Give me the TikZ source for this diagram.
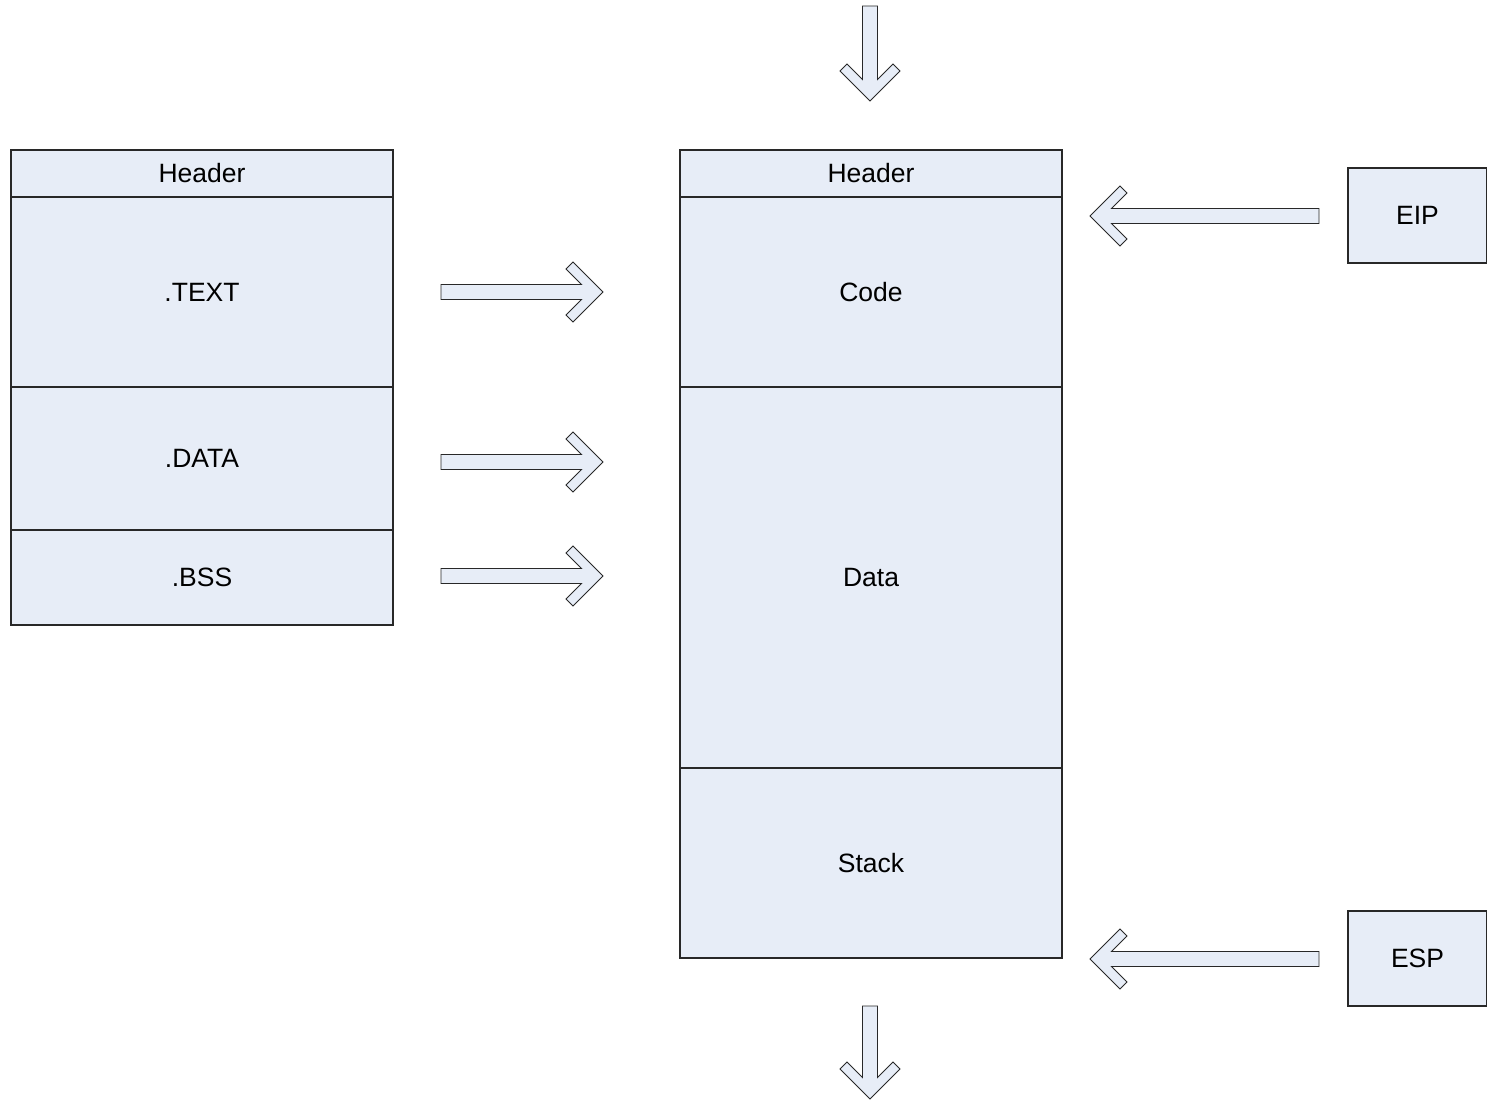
\documentclass[tikz,border=0pt]{standalone}
\usepackage{fontspec}
\setmainfont{Liberation Sans}
\definecolor{boxfill}{RGB}{231,237,247}
\definecolor{edge}{RGB}{40,40,40}
\tikzset{
  seg/.style={draw=edge, fill=boxfill, line width=1.1pt, rectangle, inner sep=0pt, outer sep=0pt,
              minimum width=382pt, font=\fontsize{26.5}{30}\selectfont},
  reg/.style={draw=edge, fill=boxfill, line width=1.1pt, rectangle, inner sep=0pt, outer sep=0pt,
              minimum width=139pt, minimum height=95pt, font=\fontsize{26.5}{30}\selectfont},
  fatarrow/.style={draw=edge, fill=boxfill, line width=0.9pt, line join=miter}
}
% hollow block arrow: start point, direction angle, length
\newcommand\blockarrow[3]{%
  \begin{scope}[shift={#1}, rotate=#2]
    \path[fatarrow] (0,7.5) -- ({#3-21.5},7.5) -- ({#3-37},23) -- ({#3-30},30)
      -- (#3,0) -- ({#3-30},-30) -- ({#3-37},-23) -- ({#3-21.5},-7.5)
      -- (0,-7.5) -- cycle;
  \end{scope}}
\begin{document}
\begin{tikzpicture}[x=1pt, y=1pt]
  \useasboundingbox (0,0) rectangle (1487,1100);

  % executable file on disk
  \node[seg, minimum height=47pt, anchor=north west] (fhdr)  at (11,950) {Header};
  \node[seg, minimum height=190pt, anchor=north west] (ftext) at (fhdr.south west) {.TEXT};
  \node[seg, minimum height=143pt, anchor=north west] (fdata) at (ftext.south west) {.DATA};
  \node[seg, minimum height=95pt, anchor=north west] (fbss)  at (fdata.south west) {.BSS};

  % process image in memory
  \node[seg, minimum height=47pt, anchor=north west] (mhdr)   at (680,950) {Header};
  \node[seg, minimum height=190pt, anchor=north west] (mcode)  at (mhdr.south west) {Code};
  \node[seg, minimum height=381pt, anchor=north west] (mdata)  at (mcode.south west) {Data};
  \node[seg, minimum height=190pt, anchor=north west] (mstack) at (mdata.south west) {Stack};

  % registers
  \node[reg, anchor=north west] (eip) at (1348,932) {EIP};
  \node[reg, anchor=north west] (esp) at (1348,189) {ESP};

  % loading arrows
  \coordinate (ltext) at (441,808);
  \coordinate (ldata) at (441,638);
  \coordinate (lbss)  at (441,524);
  \blockarrow{(ltext)}{0}{162}
  \blockarrow{(ldata)}{0}{162}
  \blockarrow{(lbss)}{0}{162}

  % register pointers
  \coordinate (peip) at (1319,884);
  \coordinate (pesp) at (1319,141);
  \blockarrow{(peip)}{180}{229}
  \blockarrow{(pesp)}{180}{229}

  % memory continues above and below
  \coordinate (vtop) at (870,1094);
  \coordinate (vbot) at (870,94);
  \blockarrow{(vtop)}{-90}{95}
  \blockarrow{(vbot)}{-90}{93}
\end{tikzpicture}
\end{document}
